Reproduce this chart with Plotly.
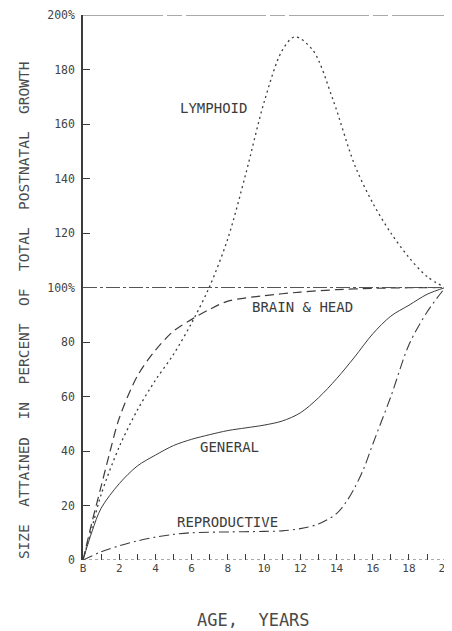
import plotly.graph_objects as go

# ---- data ----
lymph_age = [0, 0.5, 1, 2, 3, 4, 5, 6, 7, 8, 9, 10, 11, 11.7, 12.7, 13.8, 15, 16, 17, 18, 19, 20]
lymph_val = [0, 12, 24, 41.5, 55, 66, 75.5, 87, 100.5, 118, 142, 168, 187, 192, 187, 169, 145, 131, 120, 111, 104, 100]

brain_age = [0, 0.5, 1, 1.5, 2, 3, 4, 5, 6, 7, 8, 10, 12, 14, 16, 18, 20]
brain_val = [0, 14, 27, 40, 52, 67.5, 77, 84, 88.3, 92, 95, 97, 98.3, 99.2, 99.7, 99.9, 100]

gen_age = [0, 0.5, 1, 2, 3, 4, 5, 6, 7, 8, 9, 10, 11, 12, 13, 14, 15, 16, 17, 18, 19, 20]
gen_val = [0, 10.5, 19, 28, 34.5, 38.5, 42, 44.3, 46, 47.5, 48.5, 49.5, 51, 54, 59.5, 66.5, 74.5, 83, 89.5, 93.5, 97.5, 100]

repro_age = [0, 1, 2, 3, 4, 5, 6, 8, 10, 11, 12, 13, 14, 14.5, 15, 15.5, 16, 17, 18, 19, 20]
repro_val = [0, 3, 5.2, 7, 8.4, 9.4, 10, 10.3, 10.5, 10.7, 11.5, 13.2, 17, 21, 26.5, 33.5, 42.5, 60, 79, 91, 100]

x_ticks = list(range(0, 21))
x_ticktext = ["B" if v == 0 else (str(v) if v % 2 == 0 else "") for v in x_ticks]
y_ticks = [0, 20, 40, 60, 80, 100, 120, 140, 160, 180, 200]
y_ticktext = ["0", "20", "40", "60", "80", "100%", "120", "140", "160", "180", "200%"]

labels = [("LYMPHOID", 7.2, 166), ("BRAIN & HEAD", 12.1, 93),
          ("GENERAL", 8.1, 41.5), ("REPRODUCTIVE", 8.0, 14)]

INK = "#3c3c3c"
MONO = "DejaVu Sans Mono"

fig = go.Figure()

def add(xs, ys, dash, width=1.2):
    fig.add_trace(go.Scatter(x=xs, y=ys, mode="lines",
                             line=dict(color=INK, width=width, dash=dash,
                                       shape="spline", smoothing=0.9),
                             hoverinfo="skip", showlegend=False))

add(lymph_age, lymph_val, "2px,3.5px", 1.3)
add(brain_age, brain_val, "9px,5px", 1.2)
add(gen_age, gen_val, "solid", 1.0)
add(repro_age, repro_val, "10px,4px,2px,4px", 1.1)

# reference lines at 100% and 200%
fig.add_shape(type="line", x0=0, x1=20.1, y0=100, y1=100, xref="x", yref="y",
              line=dict(color="#555", width=1, dash="14px,3px,3px,3px"))
fig.add_shape(type="line", x0=0, x1=20.1, y0=200, y1=200, xref="x", yref="y",
              line=dict(color="#555", width=1.1, dash="80px,4px,15px,4px"))
# dotted baseline
fig.add_shape(type="line", x0=0, x1=20.1, y0=0, y1=0, xref="x", yref="y",
              line=dict(color="#555", width=1, dash="dot"))

for txt, x, y in labels:
    fig.add_annotation(x=x, y=y, xref="x", yref="y", text=txt, showarrow=False,
                       font=dict(family=MONO, size=14, color=INK))

fig.add_annotation(xref="paper", yref="y", x=0, y=91.7, xshift=-59,
                   xanchor="center", yanchor="middle",
                   text="SIZE  ATTAINED  IN  PERCENT  OF  TOTAL  POSTNATAL  GROWTH",
                   textangle=-90, showarrow=False,
                   font=dict(family=MONO, size=14.5, color="#4a4a4a"))
fig.add_annotation(xref="x", yref="paper", x=9.4, y=0, yshift=-60,
                   xanchor="center", yanchor="middle",
                   text="AGE,  YEARS", showarrow=False,
                   font=dict(family=MONO, size=17, color="#4a4a4a"))

fig.update_xaxes(range=[0, 20.1], tickvals=x_ticks, ticktext=x_ticktext,
                 ticks="inside", ticklen=6, tickcolor=INK, tickwidth=1,
                 showline=False, showgrid=False, zeroline=False,
                 ticklabeloverflow="allow",
                 tickfont=dict(family=MONO, size=11, color="#444"))
fig.update_yaxes(range=[0, 200], tickvals=y_ticks, ticktext=y_ticktext,
                 ticks="inside", ticklen=7, tickcolor=INK, tickwidth=1,
                 showline=True, linecolor=INK, linewidth=1.5,
                 showgrid=False, zeroline=False, ticklabelstandoff=4,
                 tickfont=dict(family=MONO, size=11.5, color="#444"))

# page adds an 8px body margin, so the figure is sized/offset to compensate
fig.update_layout(width=444, height=623, autosize=False,
                  margin=dict(l=75, r=0, t=7, b=71),
                  paper_bgcolor="white", plot_bgcolor="white")

fig.write_html("out.html")
